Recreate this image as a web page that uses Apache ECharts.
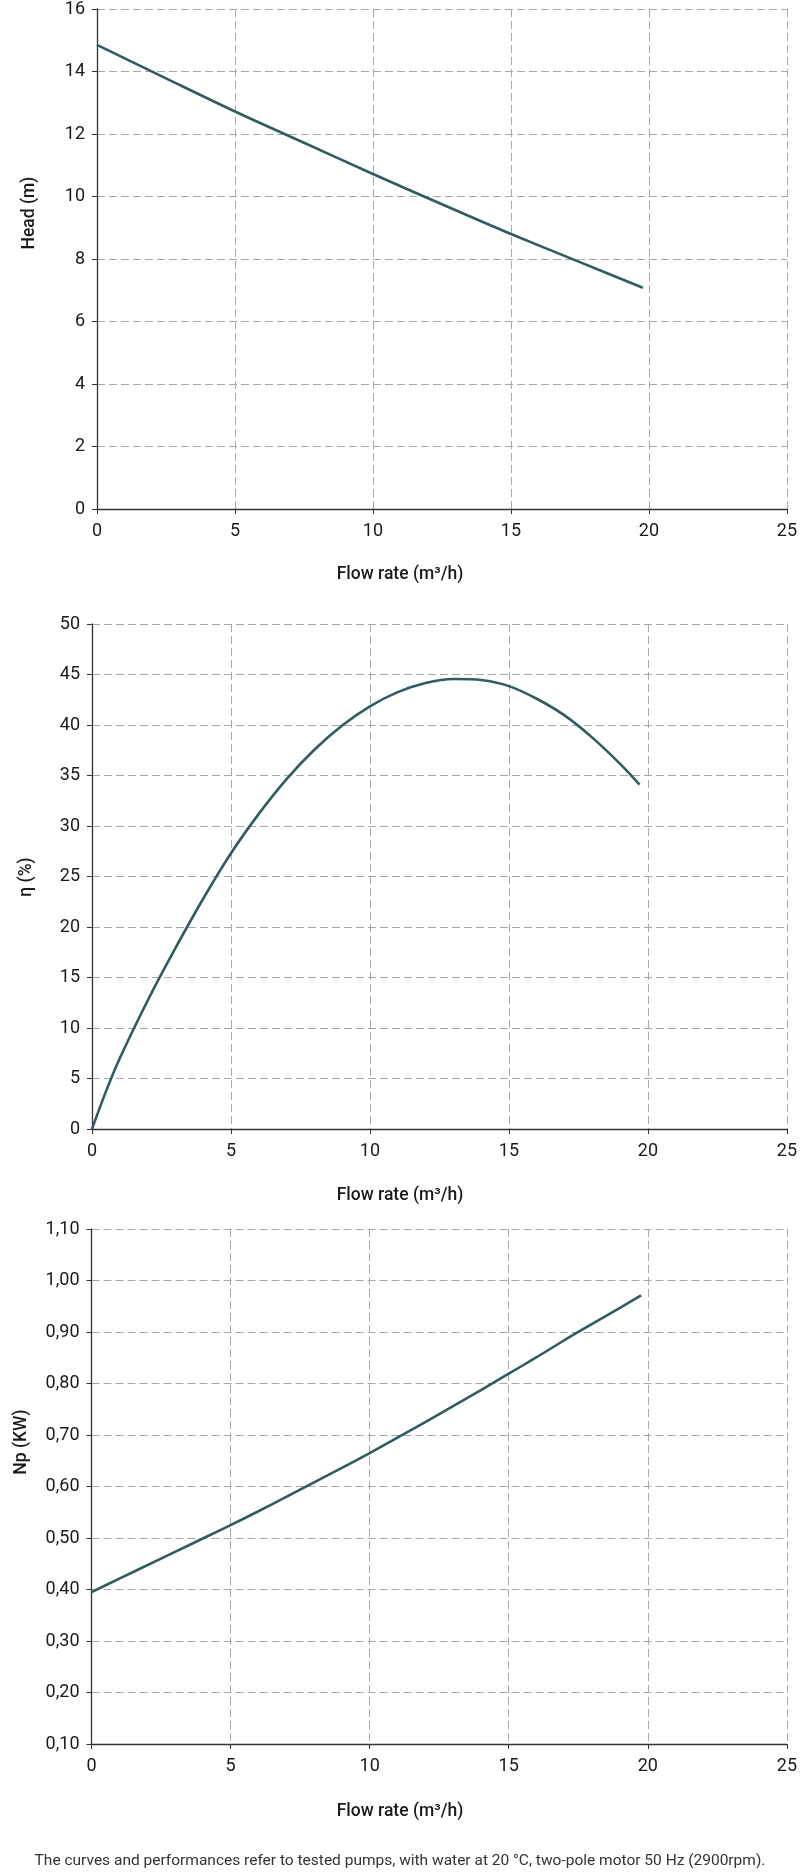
<!DOCTYPE html>
<html>
<head>
<meta charset="utf-8">
<script src="https://cdn.jsdelivr.net/npm/echarts@6/dist/echarts.min.js"></script>
<style>
html,body{margin:0;padding:0;background:#fff;}
#c{width:800px;height:1873px;}
</style>
</head>
<body>
<div id="c"></div>
<script>
// Flow rate (m³/h) sample points and values
const headFlow = [0, 2.5, 5, 7.5, 10, 12.5, 15, 17.5, 19.78];
const headValues = [14.85, 13.78, 12.72, 11.72, 10.72, 9.75, 8.8, 7.9, 7.08];

const effFlow = [0, 0.5, 1, 2, 3, 4, 5, 6, 7, 8, 9, 10, 11, 12, 13, 14, 15, 16, 17, 18, 19, 19.7];
const effValues = [0, 3.7, 7.0, 12.7, 17.9, 22.8, 27.3, 31.2, 34.65, 37.55, 39.95, 41.85, 43.25, 44.15, 44.55, 44.45, 43.85, 42.6, 40.95, 38.75, 36.15, 34.1];

const powerFlow = [0, 1, 2, 3, 4, 5, 6, 7, 8, 9, 10, 11, 12, 13, 14, 15, 16, 17, 18, 19, 19.76];
const powerValues = [0.395, 0.421, 0.447, 0.473, 0.499, 0.525, 0.552, 0.58, 0.608, 0.636, 0.665, 0.695, 0.725, 0.756, 0.787, 0.819, 0.851, 0.884, 0.916, 0.947, 0.971];

const xTitle = 'Flow rate (m³/h)';
const yTitles = ['Head (m)', 'η (%)', 'Np (KW)'];
const footnote = 'The curves and performances refer to tested pumps, with water at 20 °C, two-pole motor 50 Hz (2900rpm).';

const FONT = 'Roboto';
const LINE_COLOR = '#2e5c5f';
const GRID_LINE = {show: true, lineStyle: {color: '#a8a8a8', width: 1, type: [8, 4]}};
const AXIS_LINE = {show: true, onZero: false, lineStyle: {color: '#333', width: 1.3}};
const TICK = {show: true, length: 5, lineStyle: {color: '#333'}};
const LABEL = {color: '#1a1a1a', fontFamily: FONT, fontSize: 18};

function pairs(xs, ys) { return xs.map((x, i) => [x, ys[i]]); }

const grids = [
  {left: 97, top: 7, width: 690, height: 502},
  {left: 92, top: 624, width: 698, height: 505},
  {left: 91.5, top: 1229, width: 696.5, height: 515}
];

const xAxes = grids.map((g, i) => ({
  type: 'value', gridIndex: i, min: 0, max: 25, interval: 5,
  axisLine: AXIS_LINE, axisTick: TICK, splitLine: GRID_LINE,
  axisLabel: Object.assign({margin: 13}, LABEL)
}));

const yAxes = [
  {type: 'value', gridIndex: 0, min: 0, max: 16, interval: 2},
  {type: 'value', gridIndex: 1, min: 0, max: 50, interval: 5},
  {type: 'value', gridIndex: 2, min: 0.1, max: 1.1, interval: 0.1,
   axisLabel: Object.assign({margin: 12, formatter: v => v.toFixed(2).replace('.', ',')}, LABEL)}
].map(a => Object.assign({
  axisLine: AXIS_LINE, axisTick: TICK, splitLine: GRID_LINE,
  axisLabel: Object.assign({margin: 12}, LABEL)
}, a));

const seriesData = [pairs(headFlow, headValues), pairs(effFlow, effValues), pairs(powerFlow, powerValues)];
const series = seriesData.map((d, i) => ({
  type: 'line', xAxisIndex: i, yAxisIndex: i, data: d,
  smooth: 0.3, symbol: 'none',
  lineStyle: {color: LINE_COLOR, width: 2.6}
}));

const xTitleY = [576, 1197, 1813];
const yTitlePos = [[30, 213], [27, 877], [22, 1442]];
const graphics = [];
xTitleY.forEach(y => graphics.push({
  type: 'text', left: 'center', top: y - 10,
  style: {text: xTitle, font: '500 17.5px Roboto', fill: '#1a1a1a'}
}));
yTitlePos.forEach((p, i) => graphics.push({
  type: 'text', x: p[0], y: p[1], rotation: Math.PI / 2,
  style: {text: yTitles[i], font: '500 17.5px Roboto', fill: '#1a1a1a', align: 'center', verticalAlign: 'middle'}
}));
graphics.push({
  type: 'text', left: 'center', top: 1853,
  style: {text: footnote, font: '15.5px Roboto', fill: '#333'}
});

const chart = echarts.init(document.getElementById('c'), null, {renderer: 'canvas'});
chart.setOption({
  animation: false,
  backgroundColor: '#fff',
  grid: grids,
  xAxis: xAxes,
  yAxis: yAxes,
  series: series,
  graphic: graphics
});
</script>
</body>
</html>
